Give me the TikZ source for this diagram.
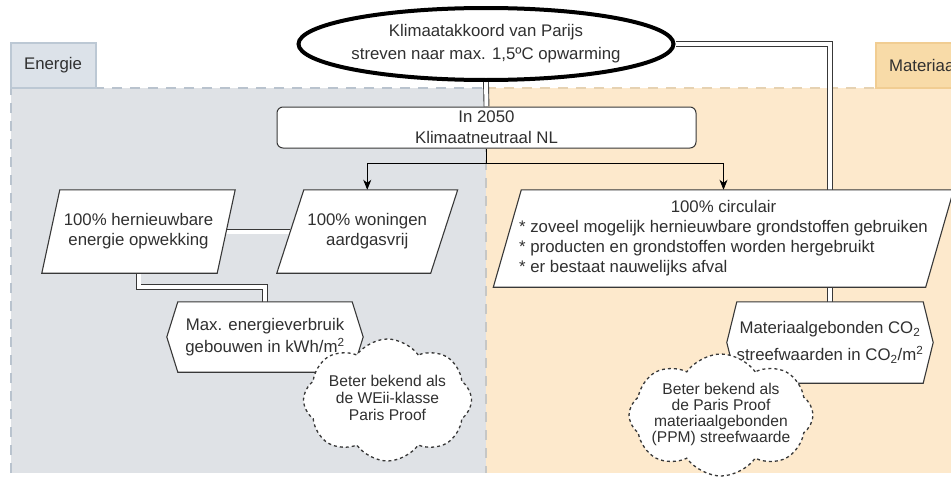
\documentclass[tikz,border=0pt]{standalone}
\usepackage{fontspec}
\setmainfont{Liberation Sans}
\usetikzlibrary{shapes.geometric,shapes.symbols,arrows.meta,calc}
\pgfdeclarelayer{bgl}\pgfdeclarelayer{conn}\pgfdeclarelayer{shp}
\pgfsetlayers{bgl,conn,shp,main}
\definecolor{engray}{HTML}{DFE2E6}
\definecolor{matbg}{HTML}{FDE9CC}
\definecolor{tabEfill}{HTML}{DCE2E9}
\definecolor{tabEline}{HTML}{BCC8D4}
\definecolor{tabMfill}{HTML}{F8DBA8}
\definecolor{tabMline}{HTML}{F1CD92}
\definecolor{dashE}{HTML}{B9C3CE}
\definecolor{dashM}{HTML}{E6D2B2}
\definecolor{txt}{HTML}{303030}
\definecolor{lin}{HTML}{383838}
\newcommand\paradraw[2]{\draw[shapeline] ($(#1.north west)+(#2,0)$) -- ($(#1.north east)+(#2,0)$) -- ($(#1.south east)-(#2,0)$) -- ($(#1.south west)-(#2,0)$) -- cycle;}
\newcommand\hexdraw[2]{\draw[shapeline] (#1.west) -- ($(#1.north west)+(#2,0)$) -- ($(#1.north east)-(#2,0)$) -- (#1.east) -- ($(#1.south east)-(#2,0)$) -- ($(#1.south west)+(#2,0)$) -- cycle;}
\begin{document}
\begin{tikzpicture}[x=1pt,y=-1pt,
  every node/.style={font=\fontsize{16.8}{20}\selectfont, text=txt},
  textbox/.style={rectangle, inner sep=0pt, align=center},
  shapeline/.style={draw=lin, line width=1.1pt, fill=white, line join=miter},
  dbl/.style={draw=lin, line width=0.9pt, double=white, double distance=4pt},
  arr/.style={draw=black, line width=0.9pt, -{Stealth[length=10pt,width=8pt,inset=3pt]}},
  cloudbox/.style={cloud, cloud puffs=8, cloud puff arc=110, cloud ignores aspect, draw=lin, line width=1.3pt, dash pattern=on 3pt off 3pt, fill=white, inner sep=0pt, font=\fontsize{15.6}{18}\selectfont},
  tab/.style={rectangle, inner sep=0pt, line width=2pt, minimum height=45pt}]
\useasboundingbox (0,0) rectangle (951,479);

% ---- nodes ----
\node[ellipse, draw=black, line width=4pt, fill=white, minimum width=375pt, minimum height=72pt, inner sep=0pt] (ell) at (486,44)
  {\makebox[0pt]{\begin{tabular}{c}Klimaatakkoord van Parijs\\[4pt] streven naar max. 1,5ºC opwarming\end{tabular}}};
\node[textbox, draw=lin, line width=1pt, fill=white, rounded corners=6pt, minimum width=419pt, minimum height=41pt] (goal) at (486.5,127.5)
  {In 2050\\[1pt] Klimaatneutraal NL};
\node[textbox, minimum width=175pt, minimum height=83pt] (hern) at (138.5,231.5)
  {100\% hernieuwbare\\ energie opwekking};
\node[textbox, minimum width=153.5pt, minimum height=83pt] (won) at (367.25,231.5)
  {100\% woningen\\ aardgasvrij};
\node[textbox, minimum width=432pt, minimum height=97pt] (circ) at (723.5,238.5)
  {\begin{tabular}{@{}l@{}}\multicolumn{1}{@{}c@{}}{100\% circulair}\\ {*} zoveel mogelijk hernieuwbare grondstoffen gebruiken\\ {*} producten en grondstoffen worden hergebruikt\\ {*} er bestaat nauwelijks afval\end{tabular}};
\node[textbox, minimum width=196pt, minimum height=70pt] (maxe) at (265,337)
  {Max. energieverbruik\\[2pt] gebouwen in kWh/m\textsuperscript{2}};
\node[textbox, minimum width=206pt, minimum height=81pt] (mat) at (830,342.5)
  {Materiaalgebonden CO\textsubscript{2}\\[7pt] streefwaarden in CO\textsubscript{2}/m\textsuperscript{2}};

% ---- shapes under the text ----
\begin{pgfonlayer}{shp}
  \paradraw{hern}{9}
  \paradraw{won}{13.5}
  \paradraw{circ}{14}
  \hexdraw{maxe}{11}
  \hexdraw{mat}{10}
\end{pgfonlayer}

% ---- clouds on top ----
\node[cloudbox, minimum width=168pt, minimum height=122pt] (cl1) at (387.5,400)
  {\makebox[0pt]{\raisebox{-3pt}{\begin{tabular}{c}Beter bekend als\\[-1pt] de WEii-klasse\\[-1pt] Paris Proof\end{tabular}}}};
\node[cloudbox, minimum width=184pt, minimum height=122pt] (cl2) at (721,415)
  {\makebox[0pt]{\raisebox{1pt}{\begin{tabular}{c}Beter bekend als\\[-2pt] de Paris Proof\\[-2pt] materiaalgebonden\\[-2pt] (PPM) streefwaarde\end{tabular}}}};

% ---- connectors ----
\begin{pgfonlayer}{conn}
  \draw[dbl] (ell.south) -- (goal.north);
  \draw[dbl] (ell.east) -| (mat.north);
  \draw[dbl] (hern.east) -- (won.west);
  \draw[dbl] (hern.south) -- ++(0,14) -| (maxe.north);
  \draw[arr] (goal.south) -- ++(0,14.5) -| (won.north);
  \draw[arr] (goal.south) -- ++(0,14.5) -| (circ.north);
\end{pgfonlayer}

% ---- background regions and tabs ----
\begin{pgfonlayer}{bgl}
  \fill[engray] (11,88) rectangle (486,473);
  \fill[matbg] (486,88) rectangle (960,473);
  \draw[dashE, line width=2.5pt, dash pattern=on 10pt off 8pt] (11,473) -- (11,88) -- (486,88);
  \draw[dashM, line width=2.5pt, dash pattern=on 10pt off 8pt] (486,88) -- (960,88);
  \draw[dashE!70!dashM, line width=2.5pt, dash pattern=on 10pt off 8pt] (486,88) -- (486,473);
  \node[tab, fill=tabEfill, draw=tabEline, minimum width=85pt] (tabE) at (53,65.5) {Energie};
  \node[tab, fill=tabMfill, draw=tabMline, minimum width=100pt, anchor=west, align=left, inner xsep=13pt, text width=74pt] (tabM) at (875,65.5) {Materiaal};
\end{pgfonlayer}
\end{tikzpicture}
\end{document}
